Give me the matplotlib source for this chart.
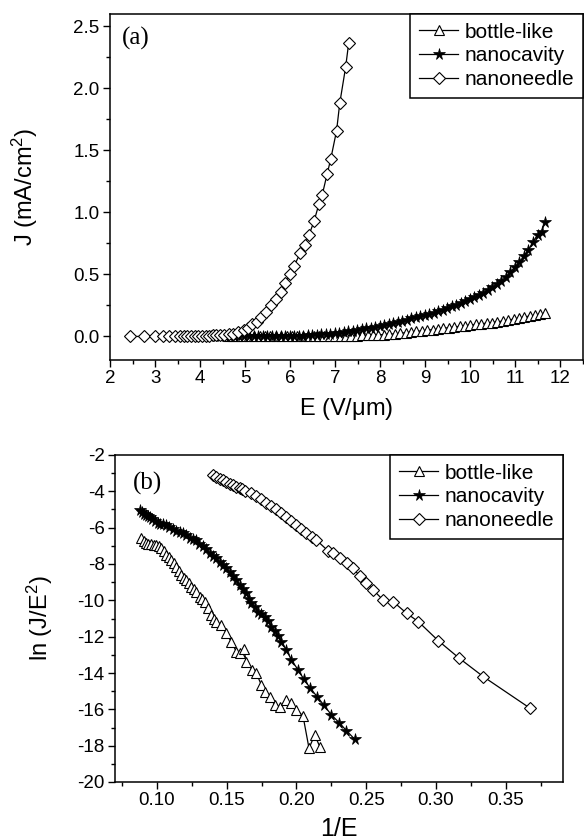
import matplotlib
matplotlib.use("Agg")
import matplotlib.pyplot as plt
from matplotlib.ticker import MultipleLocator, FormatStrFormatter

plt.rcParams['font.family'] = ['Liberation Sans', 'DejaVu Sans']
plt.rcParams['mathtext.fontset'] = 'custom'
plt.rcParams['mathtext.rm'] = 'Liberation Sans'
plt.rcParams['mathtext.it'] = 'Liberation Sans'
plt.rcParams['axes.unicode_minus'] = False

# ---------------- Panel (a): J vs E ----------------
labels = ["bottle-like", "nanocavity", "nanoneedle"]

E_bottle = [4.61, 4.72, 4.84, 4.96, 5.08, 5.20, 5.32, 5.44, 5.56, 5.68, 5.80, 5.92, 6.04, 6.16,
            6.28, 6.40, 6.52, 6.64, 6.76, 6.88, 7.00, 7.12, 7.24, 7.36, 7.48, 7.60, 7.72, 7.84,
            7.96, 8.08, 8.20, 8.32, 8.44, 8.56, 8.68, 8.80, 8.92, 9.04, 9.16, 9.28, 9.40, 9.52,
            9.64, 9.76, 9.88, 10.00, 10.12, 10.24, 10.36, 10.48, 10.60, 10.72, 10.84, 10.96,
            11.08, 11.20, 11.32, 11.44, 11.55, 11.65]
J_bottle = [0.000, 0.000, 0.000, 0.000, 0.000, 0.000, 0.000, 0.000, 0.000, 0.000, 0.000, 0.000,
            0.000, 0.001, 0.001, 0.001, 0.001, 0.001, 0.002, 0.002, 0.002, 0.003, 0.004, 0.005,
            0.006, 0.008, 0.009, 0.011, 0.013, 0.015, 0.018, 0.021, 0.025, 0.030, 0.035, 0.040,
            0.045, 0.050, 0.055, 0.060, 0.065, 0.071, 0.076, 0.081, 0.087, 0.092, 0.097, 0.102,
            0.107, 0.112, 0.118, 0.124, 0.131, 0.140, 0.148, 0.156, 0.165, 0.173, 0.180, 0.185]

E_cavity = [4.14, 4.24, 4.34, 4.44, 4.55, 4.66, 4.76, 4.87, 4.97, 5.09, 5.19, 5.29, 5.39, 5.49,
            5.59, 5.69, 5.79, 5.89, 5.99, 6.09, 6.19, 6.29, 6.39, 6.49, 6.59, 6.69, 6.79, 6.89,
            6.99, 7.09, 7.19, 7.29, 7.39, 7.49, 7.59, 7.69, 7.79, 7.89, 7.99, 8.09, 8.19, 8.29,
            8.39, 8.49, 8.59, 8.69, 8.79, 8.89, 8.99, 9.09, 9.19, 9.29, 9.39, 9.49, 9.59, 9.69,
            9.79, 9.89, 9.99, 10.09, 10.19, 10.29, 10.39, 10.49, 10.59, 10.69, 10.79, 10.89,
            10.99, 11.09, 11.19, 11.29, 11.39, 11.49, 11.58, 11.65]
J_cavity = [0.000, 0.000, 0.000, 0.000, 0.000, 0.000, 0.000, 0.000, 0.000, 0.001, 0.001, 0.001,
            0.001, 0.002, 0.002, 0.002, 0.003, 0.003, 0.004, 0.005, 0.006, 0.007, 0.009, 0.011,
            0.013, 0.016, 0.019, 0.022, 0.026, 0.030, 0.035, 0.040, 0.046, 0.052, 0.058, 0.065,
            0.072, 0.080, 0.087, 0.095, 0.103, 0.112, 0.120, 0.128, 0.136, 0.145, 0.153, 0.162,
            0.172, 0.183, 0.193, 0.205, 0.217, 0.230, 0.242, 0.255, 0.268, 0.283, 0.300, 0.316,
            0.333, 0.352, 0.373, 0.396, 0.420, 0.450, 0.480, 0.520, 0.560, 0.600, 0.650, 0.700,
            0.760, 0.820, 0.840, 0.920]

E_needle = [2.44, 2.75, 3.00, 3.18, 3.32, 3.45, 3.55, 3.64, 3.72, 3.80, 3.88, 3.96, 4.04, 4.12,
            4.20, 4.28, 4.36, 4.45, 4.54, 4.64, 4.74, 4.85, 4.97, 5.06, 5.16, 5.26, 5.36, 5.47,
            5.58, 5.69, 5.79, 5.89, 6.00, 6.09, 6.22, 6.32, 6.42, 6.53, 6.64, 6.71, 6.82, 6.90,
            7.03, 7.10, 7.23, 7.30]
J_needle = [0.000, 0.000, 0.000, 0.000, 0.000, 0.001, 0.001, 0.002, 0.002, 0.003, 0.003, 0.004,
            0.005, 0.006, 0.007, 0.008, 0.009, 0.011, 0.013, 0.016, 0.022, 0.035, 0.050, 0.070,
            0.100, 0.120, 0.160, 0.200, 0.250, 0.300, 0.360, 0.430, 0.500, 0.570, 0.670, 0.740,
            0.820, 0.930, 1.070, 1.140, 1.310, 1.430, 1.660, 1.880, 2.170, 2.370]

# ---------------- Panel (b): ln(J/E^2) vs 1/E ----------------
x_bottle = [0.0888, 0.0905, 0.0924, 0.0940, 0.0960, 0.0978, 0.0996, 0.1014, 0.1032, 0.1050,
            0.1067, 0.1085, 0.1103, 0.1121, 0.1139, 0.1157, 0.1175, 0.1193, 0.1211, 0.1229,
            0.1247, 0.1265, 0.1283, 0.1306, 0.1324, 0.1342, 0.1366, 0.1390, 0.1408, 0.1426,
            0.1462, 0.1498, 0.1534, 0.1570, 0.1593, 0.1622, 0.1641, 0.1684, 0.1713, 0.1749,
            0.1773, 0.1808, 0.1844, 0.1885, 0.1923, 0.1964, 0.2000, 0.2047, 0.2090, 0.2131,
            0.2167]
y_bottle = [-6.59, -6.75, -6.86, -6.88, -6.90, -6.93, -6.95, -7.02, -7.13, -7.30, -7.50, -7.62,
            -7.78, -7.95, -8.15, -8.38, -8.60, -8.75, -8.88, -9.05, -9.25, -9.38, -9.52, -9.80,
            -9.90, -10.07, -10.44, -10.81, -11.00, -11.17, -11.36, -11.81, -12.30, -12.83,
            -12.92, -12.69, -13.38, -13.83, -14.02, -14.66, -15.03, -15.30, -15.76, -15.85,
            -15.48, -15.67, -16.03, -16.36, -18.14, -17.41, -18.05]

x_cavity = [0.0876, 0.0890, 0.0905, 0.0920, 0.0935, 0.0948, 0.0965, 0.0985, 0.1005, 0.1025,
            0.1045, 0.1067, 0.1090, 0.1115, 0.1140, 0.1165, 0.1187, 0.1210, 0.1235, 0.1260,
            0.1283, 0.1305, 0.1330, 0.1354, 0.1378, 0.1402, 0.1426, 0.1450, 0.1474, 0.1498,
            0.1522, 0.1546, 0.1570, 0.1594, 0.1617, 0.1641, 0.1660, 0.1677, 0.1701, 0.1725,
            0.1749, 0.1773, 0.1797, 0.1821, 0.1845, 0.1868, 0.1892, 0.1928, 0.1964, 0.2012,
            0.2053, 0.2100, 0.2148, 0.2196, 0.2251, 0.2306, 0.2358, 0.2418]
y_cavity = [-5.03, -5.15, -5.25, -5.32, -5.38, -5.42, -5.52, -5.62, -5.72, -5.78, -5.82, -5.88,
            -5.98, -6.08, -6.18, -6.25, -6.32, -6.42, -6.55, -6.62, -6.70, -6.88, -7.00, -7.15,
            -7.40, -7.55, -7.69, -7.90, -8.05, -8.24, -8.45, -8.65, -8.88, -9.15, -9.35, -9.61,
            -9.90, -10.13, -10.35, -10.62, -10.75, -10.90, -11.15, -11.45, -11.70, -11.98,
            -12.27, -12.73, -13.28, -13.83, -14.34, -14.84, -15.30, -15.76, -16.31, -16.73,
            -17.17, -17.65]

x_needle = [0.1402, 0.1426, 0.1450, 0.1473, 0.1498, 0.1522, 0.1545, 0.1570, 0.1593, 0.1613,
            0.1629, 0.1677, 0.1713, 0.1749, 0.1785, 0.1821, 0.1857, 0.1892, 0.1928, 0.1964,
            0.2000, 0.2036, 0.2072, 0.2108, 0.2143, 0.2227, 0.2263, 0.2311, 0.2359, 0.2406,
            0.2454, 0.2502, 0.2550, 0.2621, 0.2693, 0.2789, 0.2873, 0.3016, 0.3167, 0.3339,
            0.3674]
y_needle = [-3.10, -3.23, -3.30, -3.39, -3.49, -3.58, -3.67, -3.76, -3.83, -3.89, -3.96, -4.11,
            -4.26, -4.44, -4.62, -4.81, -4.99, -5.21, -5.39, -5.63, -5.85, -6.07, -6.28, -6.50,
            -6.68, -7.28, -7.41, -7.69, -7.96, -8.24, -8.66, -9.06, -9.43, -9.98, -10.07,
            -10.71, -11.17, -12.22, -13.19, -14.20, -15.94]

W, H = 584, 840
fig = plt.figure(figsize=(W / 100, H / 100), dpi=100)

def frac_axes(l, r, t, b):
    return fig.add_axes([l / W, 1 - b / H, (r - l) / W, (b - t) / H])

axA = frac_axes(110, 583, 14, 360)
axB = frac_axes(115, 563, 455, 782)

styles = [
    dict(marker='^', mfc='white', mec='black', ms=7, mew=0.8),
    dict(marker='*', mfc='black', mec='black', ms=8.5, mew=0.5),
    dict(marker='D', mfc='white', mec='black', ms=6, mew=0.8),
]

tick_fs = 13.5
lab_fs = 17
leg_fs = 15

def style_legend(ax):
    leg = ax.legend(loc='upper right', fontsize=leg_fs, frameon=True, fancybox=False,
                    edgecolor='black', borderaxespad=0, handlelength=1.9, handletextpad=0.3,
                    labelspacing=0.22, borderpad=0.42)
    leg.get_frame().set_linewidth(1.1)
    leg.get_frame().set_alpha(1)
    return leg

# Panel (a)
for (xs, ys), lab, st in zip([(E_bottle, J_bottle), (E_cavity, J_cavity), (E_needle, J_needle)],
                             labels, styles):
    axA.plot(xs, ys, color='black', lw=0.9, label=lab, **st)
axA.set_xlim(2, 12.5)
axA.set_ylim(-0.19, 2.6)
axA.xaxis.set_major_locator(MultipleLocator(1))
axA.xaxis.set_minor_locator(MultipleLocator(0.5))
axA.yaxis.set_major_locator(MultipleLocator(0.5))
axA.yaxis.set_minor_locator(MultipleLocator(0.25))
axA.yaxis.set_major_formatter(FormatStrFormatter('%.1f'))
axA.set_xlabel(r'E (V/$\mathrm{\mu}$m)', fontsize=lab_fs)
axA.set_ylabel(r'J (mA/cm$^2$)', fontsize=lab_fs)
axA.xaxis.set_label_coords(0.5, -0.105)
axA.yaxis.set_label_coords(-0.148, 0.5)
axA.text(0.025, 0.962, '(a)', transform=axA.transAxes, fontsize=18,
         family='Liberation Serif', va='top', ha='left')
style_legend(axA)

# Panel (b)
for (xs, ys), lab, st in zip([(x_bottle, y_bottle), (x_cavity, y_cavity), (x_needle, y_needle)],
                             labels, styles):
    axB.plot(xs, ys, color='black', lw=0.9, label=lab, **st)
axB.set_xlim(0.07, 0.391)
axB.set_ylim(-20, -2)
axB.xaxis.set_major_locator(MultipleLocator(0.05))
axB.xaxis.set_minor_locator(MultipleLocator(0.025))
axB.yaxis.set_major_locator(MultipleLocator(2))
axB.yaxis.set_minor_locator(MultipleLocator(1))
axB.xaxis.set_major_formatter(FormatStrFormatter('%.2f'))
axB.set_xlabel('1/E', fontsize=lab_fs + 1)
axB.set_ylabel(r'ln (J/E$^2$)', fontsize=lab_fs)
axB.xaxis.set_label_coords(0.5, -0.108)
axB.yaxis.set_label_coords(-0.134, 0.5)
axB.text(0.04, 0.948, '(b)', transform=axB.transAxes, fontsize=18,
         family='Liberation Serif', va='top', ha='left')
style_legend(axB)

for ax in (axA, axB):
    for sp in ax.spines.values():
        sp.set_linewidth(1.1)
    ax.tick_params(which='both', direction='out', top=False, right=False, width=1.0,
                   labelsize=tick_fs, pad=2.5)
    ax.tick_params(which='major', length=5)
    ax.tick_params(which='minor', length=3)

fig.savefig('out.png', dpi=100)
